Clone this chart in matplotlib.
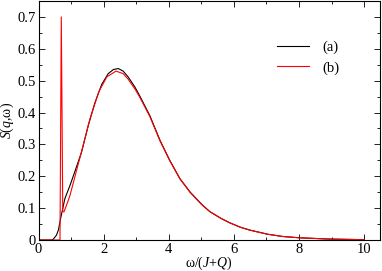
import matplotlib
matplotlib.use("Agg")
import matplotlib.pyplot as plt
from matplotlib.ticker import MultipleLocator

plt.rcParams['font.family'] = ['Liberation Serif', 'DejaVu Serif']
plt.rcParams['mathtext.fontset'] = 'custom'
plt.rcParams['mathtext.rm'] = 'Liberation Serif'
plt.rcParams['mathtext.it'] = 'Liberation Serif:italic'

# series (a)
xa = [0, 0.4, 0.45, 0.55, 0.61, 0.69, 0.81, 0.97, 1.1, 1.32, 1.53, 1.73, 1.94, 2.14, 2.3,
      2.45, 2.6, 2.75, 2.96, 3.11, 3.42, 3.73, 4.03, 4.34, 4.65, 5.0, 5.26, 5.6, 5.87, 6.2, 6.49,
      7.04, 7.5, 8.0, 8.9, 10.0]
ya = [0, 0, 0.002, 0.015, 0.031, 0.073, 0.13, 0.172, 0.21, 0.275, 0.36, 0.43, 0.488, 0.522, 0.535,
      0.538, 0.53, 0.512, 0.48, 0.452, 0.39, 0.313, 0.25, 0.193, 0.151, 0.113, 0.089, 0.068, 0.054, 0.04, 0.031,
      0.018, 0.011, 0.007, 0.003, 0.001]
# series (b)
xb = [0, 0.66, 0.70, 0.745, 0.78, 0.9, 0.97, 1.17, 1.32, 1.58, 1.85, 2.1, 2.38, 2.6, 2.75,
      2.96, 3.11, 3.42, 3.73, 4.03, 4.34, 4.65, 5.0, 5.26, 5.6, 5.87, 6.2, 6.49, 7.04, 7.5, 8.0, 8.9, 10.0]
yb = [0, 0, 0.70, 0.09, 0.088, 0.12, 0.141, 0.219, 0.277, 0.38, 0.465, 0.512, 0.53, 0.522, 0.505,
      0.474, 0.448, 0.387, 0.311, 0.249, 0.192, 0.15, 0.112, 0.089, 0.068, 0.054, 0.04, 0.031, 0.018, 0.011, 0.007, 0.003, 0.001]

labels = ['(a)', '(b)']
colors = ['black', 'red']
xticks = [0, 2, 4, 6, 8, 10]
yticks = [0, 0.1, 0.2, 0.3, 0.4, 0.5, 0.6, 0.7]
yticklabels = ['0', '0.1', '0.2', '0.3', '0.4', '0.5', '0.6', '0.7']

FS = 10.5
fig = plt.figure(figsize=(3.82, 2.71), dpi=100)
ax = fig.add_axes([38.5/382, 1-240/271, (379.5-38.5)/382, 239/271])
ax.plot(xa, ya, color=colors[0], lw=0.8, label=labels[0])
ax.plot(xb, yb, color=colors[1], lw=0.8, label=labels[1])
ax.set_xlim(0, 10.47)
ax.set_ylim(0, 0.75)
ax.xaxis.set_minor_locator(MultipleLocator(1))
ax.yaxis.set_minor_locator(MultipleLocator(0.05))
ax.set_yticks(yticks)
ax.set_yticklabels(yticklabels, family='Liberation Serif', fontsize=FS)
ax.set_xticks(xticks)
ax.set_xticklabels([str(v) for v in xticks], family='Liberation Serif', fontsize=FS)
ax.tick_params(which='both', direction='in', top=True, right=True, width=0.6, pad=2)
ax.tick_params(which='major', length=4)
ax.tick_params(which='minor', length=2)
for s in ax.spines.values():
    s.set_linewidth(0.8)
ax.set_xlabel(r'ω/($J$+$Q$)', fontsize=10, labelpad=-1, family='Liberation Serif')
ax.set_ylabel(r'$S$($q$,ω)', fontsize=10, family='Liberation Serif')
ax.yaxis.set_label_coords(-0.066, 0.5)
ax.legend(loc='upper right', bbox_to_anchor=(0.92, 0.89), frameon=False,
          prop={'family': 'Liberation Serif', 'size': FS},
          handlelength=2.2, handletextpad=0.9, labelspacing=0.5)
fig.savefig('out.png', dpi=100)
